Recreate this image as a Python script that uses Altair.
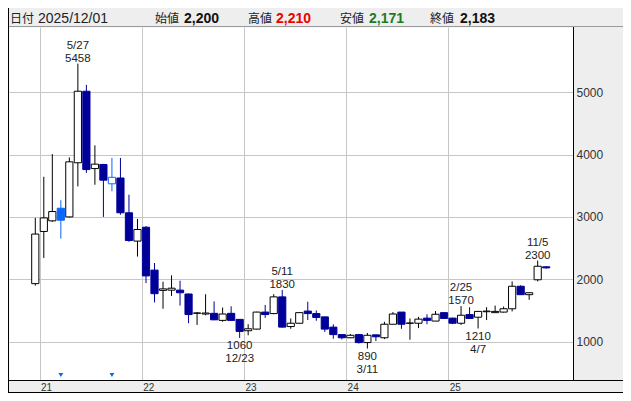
import json
import altair as alt
import pandas as pd

# ---------------- data (monthly candles) ----------------
months = ["2020-12",
          "2021-01", "2021-02", "2021-03", "2021-04", "2021-05", "2021-06",
          "2021-07", "2021-08", "2021-09", "2021-10", "2021-11", "2021-12",
          "2022-01", "2022-02", "2022-03", "2022-04", "2022-05", "2022-06",
          "2022-07", "2022-08", "2022-09", "2022-10", "2022-11", "2022-12",
          "2023-01", "2023-02", "2023-03", "2023-04", "2023-05", "2023-06",
          "2023-07", "2023-08", "2023-09", "2023-10", "2023-11", "2023-12",
          "2024-01", "2024-02", "2024-03", "2024-04", "2024-05", "2024-06",
          "2024-07", "2024-08", "2024-09", "2024-10", "2024-11", "2024-12",
          "2025-01", "2025-02", "2025-03", "2025-04", "2025-05", "2025-06",
          "2025-07", "2025-08", "2025-09", "2025-10", "2025-11", "2025-12"]
opens = [1930,
         2767, 2937, 3139, 3000, 3868, 5015, 3775, 3841, 3531, 3624, 3066, 2612,
         2834, 2147, 1822, 1826, 1826, 1764, 1455, 1443, 1454, 1341, 1454, 1357,
         1175, 1201, 1474, 1450, 1718, 1242, 1295, 1490, 1450, 1397, 1233, 1113,
         1062, 1113, 985, 1109, 1062, 1279, 1474, 1295, 1295, 1377, 1330, 1465,
         1377, 1295, 1434, 1392, 1480, 1465, 1474, 1527, 1888, 1753, 1992, 2200]
highs = [2984,
         3644, 4007, 3268, 3954, 5458, 5117, 4147, 3850, 3945, 3945, 3356, 2968,
         2854, 2260, 1961, 2063, 1977, 1770, 1474, 1760, 1645, 1547, 1567, 1357,
         1279, 1480, 1589, 1760, 1830, 1372, 1470, 1640, 1500, 1400, 1279, 1113,
         1124, 1124, 1140, 1109, 1319, 1474, 1474, 1372, 1397, 1439, 1490, 1465,
         1385, 1570, 1552, 1490, 1552, 1578, 1563, 1966, 1904, 1790, 2300, 2210]
lows = [1899,
        2342, 2920, 2652, 2990, 3489, 3706, 3516, 3000, 3412, 3035, 2601, 2364,
        1939, 1629, 1527, 1733, 1578, 1295, 1268, 1423, 1345, 1319, 1335, 1060,
        1102, 1195, 1381, 1440, 1225, 1206, 1290, 1346, 1335, 1155, 1047, 1036,
        1055, 969, 890, 1009, 1040, 1279, 1206, 1031, 1217, 1279, 1330, 1372,
        1280, 1268, 1370, 1210, 1346, 1465, 1465, 1485, 1753, 1671, 1966, 2171]
closes = [2725,
          2984, 3086, 2947, 3883, 5015, 3759, 3846, 3589, 3635, 3066, 2621, 2798,
          2054, 1769, 1846, 1857, 1784, 1434, 1460, 1459, 1350, 1443, 1341, 1164,
          1206, 1474, 1434, 1718, 1233, 1295, 1465, 1450, 1388, 1201, 1113, 1062,
          1102, 985, 1102, 1078, 1279, 1443, 1279, 1298, 1361, 1341, 1439, 1372,
          1295, 1423, 1372, 1485, 1490, 1485, 1527, 1888, 1753, 1784, 2209, 2183]

event_months = ["2021-03", "2021-09"]

ann_months = ["2021-05", "2022-12", "2023-05", "2024-03", "2025-02", "2025-04", "2025-11"]
ann_dates = ["5/27", "12/23", "5/11", "3/11", "2/25", "4/7", "11/5"]
ann_prices = [5458, 1060, 1830, 890, 1570, 1210, 2300]
ann_kinds = ["high", "low", "high", "low", "high", "low", "high"]

y_ticks = [1000, 2000, 3000, 4000, 5000]
year_labels = ["21", "22", "23", "24", "25"]
year_ticks = [0, 12, 24, 36, 48]

# ---------------- styling ----------------
NAVY = "#000099"
BLUE = "#0a66ff"
GRID = "#c6c6c6"
TXT = "#222222"
NUMFONT = "Liberation Sans"
JPFONT = "Noto Sans CJK JP"
PLOT_W, PLOT_H = 564, 353
PAD = {"left": 1, "top": 19, "right": 50, "bottom": 13}


def month_index(m):
    y, mo = m.split("-")
    return (int(y) - 2021) * 12 + int(mo) - 1 + 0.5


rows = []
for m, o, h, l, c in zip(months, opens, highs, lows, closes):
    ev = m in event_months
    if c >= o:
        fill = "#ffffff"
        line = BLUE if ev else "#000000"
    else:
        fill = BLUE if ev else NAVY
        line = fill
    rows.append(dict(idx=month_index(m), open=o, high=h, low=l, close=c,
                     body_lo=min(o, c), body_hi=max(o, c), fill=fill, line=line))
df = pd.DataFrame(rows)

ann = pd.DataFrame(dict(idx=[month_index(m) for m in ann_months], price=ann_prices,
                        date_label=ann_dates, price_label=[str(p) for p in ann_prices],
                        kind=ann_kinds))
ev_df = pd.DataFrame(dict(idx=[month_index(m) for m in event_months]))

x_scale = alt.Scale(domain=[-3, 62.06], nice=False, zero=False)
y_scale = alt.Scale(domain=[385, 6045], nice=False, zero=False)
x_axis = alt.Axis(values=year_ticks, labelExpr=json.dumps(year_labels) + "[round(datum.value / 12)]",
                  grid=True, gridColor=GRID, ticks=False, domain=False, labelAlign="left",
                  labelBaseline="top", labelPadding=2, labelOffset=1, labelFontSize=10,
                  labelFont=NUMFONT, labelColor="#333333", title=None)
y_axis = alt.Axis(values=y_ticks, orient="right", grid=True, gridColor=GRID, ticks=False,
                  domain=False, labelPadding=3, labelFontSize=12, labelFont=NUMFONT,
                  labelColor="#333333", format="d", title=None)


def X(field="idx:Q"):
    return alt.X(field, scale=x_scale, axis=x_axis)


def Y(field):
    return alt.Y(field, scale=y_scale, axis=y_axis)


wicks = alt.Chart(df).mark_rule(strokeWidth=1).encode(
    x=X(), y=Y("low:Q"), y2="high:Q", color=alt.Color("line:N", scale=None))
bodies = alt.Chart(df).mark_bar(size=7.2, strokeWidth=1, orient="vertical").encode(
    x=X(), y=Y("body_lo:Q"), y2="body_hi:Q",
    fill=alt.Fill("fill:N", scale=None), stroke=alt.Stroke("line:N", scale=None))

tri = alt.Chart(ev_df).mark_point(shape="triangle-down", filled=True, size=24, color=BLUE,
                                  opacity=1).encode(x=X(), y=alt.value(PLOT_H - 5))


def ann_layer(kind, field, dy):
    return alt.Chart(ann).transform_filter(alt.datum.kind == kind).mark_text(
        dy=dy, align="center", baseline="alphabetic", font=NUMFONT, fontSize=11.5, color=TXT
    ).encode(x=X(), y=Y("price:Q"), text=f"{field}:N")


ann_layers = [ann_layer("high", "date_label", -15), ann_layer("high", "price_label", -2),
              ann_layer("low", "price_label", 11), ann_layer("low", "date_label", 24)]

one = alt.Data(values=[{"a": 1}])


def htext(txt, x, font, size, color, weight="normal"):
    return alt.Chart(one).mark_text(text=txt, align="left", baseline="alphabetic", font=font,
                                    fontSize=size, fontWeight=weight, color=color).encode(
        x=alt.value(x), y=alt.value(-4.5))


last = months[-1].replace("-", "/") + "/01"
header = [
    htext("日付", 1, JPFONT, 12, TXT),
    htext(last, 29, NUMFONT, 14, TXT),
    htext("始値", 146, JPFONT, 12, TXT),
    htext(f"{opens[-1]:,}", 175, NUMFONT, 14, "#111111", "bold"),
    htext("高値", 239, JPFONT, 12, TXT),
    htext(f"{highs[-1]:,}", 267, NUMFONT, 14, "#ee0000", "bold"),
    htext("安値", 331, JPFONT, 12, TXT),
    htext(f"{lows[-1]:,}", 360, NUMFONT, 14, "#1f7a1f", "bold"),
    htext("終値", 421, JPFONT, 12, TXT),
    htext(f"{closes[-1]:,}", 451, NUMFONT, 14, "#111111", "bold"),
]


def hline(y, color, x0=-1, x1=PLOT_W + PAD["right"]):
    return alt.Chart(one).mark_rule(color=color, strokeWidth=1).encode(
        x=alt.value(x0), x2=alt.value(x1), y=alt.value(y))


def vline(x, y0, y1, color="#000000"):
    return alt.Chart(one).mark_rule(color=color, strokeWidth=1).encode(
        x=alt.value(x), y=alt.value(y0), y2=alt.value(y1))


frame = [
    hline(-0.5, "#9a9a9a"),
    hline(PLOT_H + 0.5, "#000000"),
    hline(PLOT_H + PAD["bottom"] - 0.5, "#000000"),
    vline(-0.5, -PAD["top"], PLOT_H + PAD["bottom"]),
    vline(PLOT_W + 0.5, 0, PLOT_H),
]

chart = alt.layer(wicks, bodies, tri, *ann_layers, *header, *frame).properties(
    width=PLOT_W, height=PLOT_H, padding=PAD, autosize=alt.AutoSizeParams(type="none"),
    background="#eeeeee"
).configure_view(fill="#ffffff", stroke="transparent")

chart.save("out.html", embed_options={"renderer": "svg", "actions": False})
